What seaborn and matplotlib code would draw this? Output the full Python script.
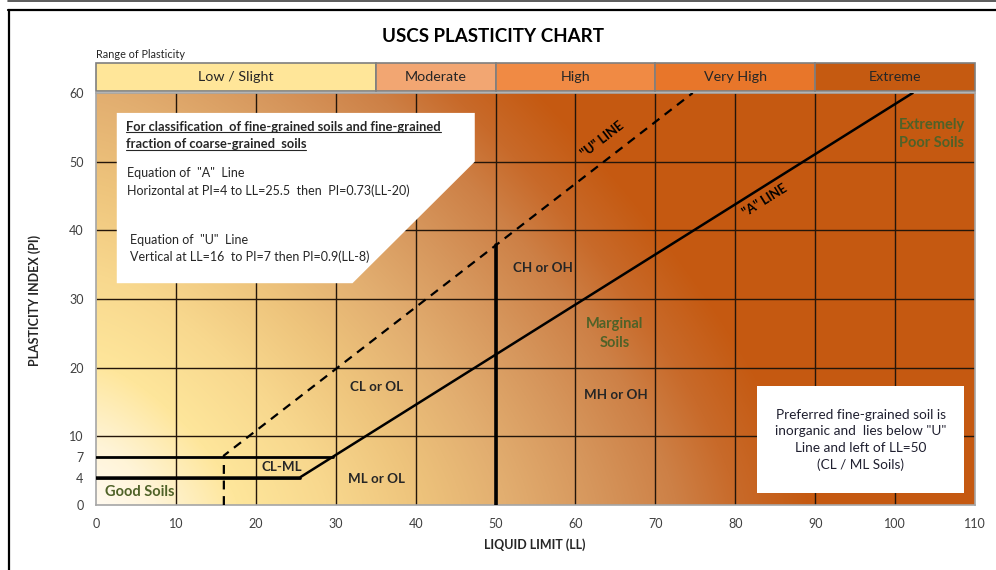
import numpy as np
import pandas as pd
import matplotlib
matplotlib.use("Agg")
import matplotlib.pyplot as plt
from matplotlib.lines import Line2D
from matplotlib.patches import Polygon, Rectangle
import seaborn as sns

# ---------------- data ----------------
ll_ticks = [0, 10, 20, 30, 40, 50, 60, 70, 80, 90, 100, 110]
pi_ticks = [0, 4, 7, 10, 20, 30, 40, 50, 60]
grid_ll = [10, 20, 30, 40, 50, 60, 70, 80, 90, 100]
grid_pi = [10, 20, 30, 40, 50]

# "A" line: horizontal at PI=4 to LL=25.5 then PI=0.73(LL-20)
a_line_ll = [0, 25.5, 102.2]
a_line_pi = [4, 4, 60]
# "U" line: vertical at LL=16 to PI=7 then PI=0.9(LL-8)
u_line_ll = [16, 16, 74.67]
u_line_pi = [0, 7.2, 60]
# CL-ML upper boundary
clml_ll = [0, 29.6]
clml_pi = [7, 7]
# LL = 50 divider
ll50_ll = [50, 50]
ll50_pi = [0, 37.8]

range_labels = ["Low / Slight", "Moderate", "High", "Very High", "Extreme"]
range_start = [0, 35, 50, 70, 90]
range_end = [35, 50, 70, 90, 110]
range_colors = ["#FFE699", "#F2A672", "#F08A44", "#E8762A", "#C55A11"]

# ---------------- style ----------------
sns.set_theme(style="white")
plt.rcParams["font.family"] = ["Lato", "DejaVu Sans"]

W, H = 996, 570
fig = plt.figure(figsize=(W / 100, H / 100), dpi=100)
fig.patch.set_facecolor("white")

L, R, T, B = 96, 975, 93, 505
ax = fig.add_axes([L / W, (H - B) / H, (R - L) / W, (B - T) / H])
ax.set_xlim(0, 110)
ax.set_ylim(0, 60)

# background gradient from bottom-left corner (pixel space, p-norm contours)
pw, ph = R - L, B - T
xx, yy = np.meshgrid(np.arange(pw, dtype=float), np.arange(ph, dtype=float))
p = 1.35
d = (xx ** p + yy ** p) ** (1 / p)
stops = [0, 60, 140, 230, 320, 410, 500, 580, 640, 710]
cols = np.array([(255, 250, 240), (255, 244, 215), (254, 230, 155), (248, 216, 142),
                 (238, 196, 124), (226, 174, 112), (214, 150, 92), (205, 128, 70),
                 (200, 106, 42), (197, 90, 18)]) / 255.0
img = np.dstack([np.interp(d, stops, cols[:, k]) for k in range(3)])
ax.imshow(img, extent=[0, 110, 0, 60], origin="lower", aspect="auto", zorder=0)

# grid
ax.vlines(grid_ll, 0, 60, color="#24160a", lw=1.0, zorder=1)
ax.hlines(grid_pi, 0, 110, color="#24160a", lw=1.0, zorder=1)

# lines via seaborn
sns.lineplot(x=a_line_ll, y=a_line_pi, ax=ax, sort=False, estimator=None,
             color="black", lw=1.8, zorder=3)
sns.lineplot(x=u_line_ll, y=u_line_pi, ax=ax, sort=False, estimator=None,
             color="black", lw=1.6, linestyle=(0, (4, 3)), zorder=3)
sns.lineplot(x=clml_ll, y=clml_pi, ax=ax, sort=False, estimator=None,
             color="black", lw=2.0, zorder=3)
sns.lineplot(x=a_line_ll[:2], y=a_line_pi[:2], ax=ax, sort=False, estimator=None,
             color="black", lw=2.0, zorder=3)
sns.lineplot(x=ll50_ll, y=ll50_pi, ax=ax, sort=False, estimator=None,
             color="black", lw=2.6, zorder=3)

# white note boxes
ax.add_patch(Polygon([(2.6, 57.1), (47.4, 57.1), (47.4, 50.0), (32.1, 32.3), (2.6, 32.3)],
                     closed=True, facecolor="white", edgecolor="none", zorder=4))
ax.add_patch(Rectangle((82.75, 1.75), 108.6 - 82.75, 17.3 - 1.75,
                       facecolor="white", edgecolor="none", zorder=4))

# axes styling
ax.set_xticks(ll_ticks)
ax.set_yticks(pi_ticks)
ax.tick_params(axis="both", labelsize=9, labelcolor="#404040", colors="#808080",
               length=3, direction="in", pad=9)
for s in ax.spines.values():
    s.set_color("#A6A6A6")
    s.set_linewidth(1.2)
ax.grid(False)
ax.set_xlabel("")
ax.set_ylabel("")

txtc = "#262626"
green = "#4F6228"

# annotations in the top-left box
t1 = ax.text(3.75, 55.0, "For classification  of fine-grained soils and fine-grained",
             fontsize=9.3, fontweight="bold", color=txtc, va="center", ha="left", zorder=5)
t2 = ax.text(3.75, 52.5, "fraction of coarse-grained  soils",
             fontsize=9.3, fontweight="bold", color=txtc, va="center", ha="left", zorder=5)
ax.text(3.9, 48.3, 'Equation of  "A"  Line', fontsize=9, color=txtc, va="center", ha="left", zorder=5)
ax.text(3.9, 45.8, "Horizontal at PI=4 to LL=25.5  then  PI=0.73(LL-20)", fontsize=9,
        color=txtc, va="center", ha="left", zorder=5)
ax.text(4.25, 38.6, 'Equation of  "U"  Line', fontsize=9, color=txtc, va="center", ha="left", zorder=5)
ax.text(4.25, 36.1, "Vertical at LL=16  to PI=7 then PI=0.9(LL-8)", fontsize=9,
        color=txtc, va="center", ha="left", zorder=5)

# rotated line labels: angle taken from the axes transform
def screen_angle(p0, p1):
    a = ax.transData.transform(p0)
    b = ax.transData.transform(p1)
    return np.degrees(np.arctan2(b[1] - a[1], b[0] - a[0]))

ang_u = screen_angle((u_line_ll[1], u_line_pi[1]), (u_line_ll[2], u_line_pi[2]))
ang_a = screen_angle((a_line_ll[1], a_line_pi[1]), (a_line_ll[2], a_line_pi[2]))
ax.text(63.4, 53.2, '"U" LINE', rotation=ang_u, rotation_mode="anchor", fontsize=9.3,
        fontweight="bold", color="black", ha="center", va="center", zorder=5)
ax.text(83.75, 44.4, '"A" LINE', rotation=ang_a, rotation_mode="anchor", fontsize=9.3,
        fontweight="bold", color="black", ha="center", va="center", zorder=5)

bold_labels = [(55.9, 34.5, "CH or OH"), (35.1, 17.2, "CL or OL"), (65.1, 16.0, "MH or OH"),
               (23.25, 5.5, "CL-ML"), (35.1, 3.8, "ML or OL")]
for x, y, s in bold_labels:
    ax.text(x, y, s, fontsize=9.6, fontweight="bold", color=txtc, ha="center", va="center", zorder=5)

green_labels = [(64.9, 25.0, "Marginal\nSoils"), (5.5, 1.9, "Good Soils"),
                (104.6, 54.0, "Extremely\nPoor Soils")]
for x, y, s in green_labels:
    ax.text(x, y, s, fontsize=10.5, fontweight="bold", color=green, ha="center", va="center",
            linespacing=1.4, zorder=5)

ax.text(95.7, 9.5, 'Preferred fine-grained soil is\ninorganic and  lies below "U"\nLine and left of LL=50\n(CL / ML Soils)',
        fontsize=9.8, color="#202030", ha="center", va="center", linespacing=1.45, zorder=5)

# range of plasticity band
band = fig.add_axes([L / W, (H - 91) / H, (R - L) / W, 28 / H])
band.set_xlim(0, 110)
band.set_ylim(0, 1)
band.axis("off")
widths = [e - s for s, e in zip(range_start, range_end)]
band.barh([0.5] * len(range_labels), widths, left=range_start, height=1.0,
          color=range_colors, edgecolor="#7F7F7F", linewidth=1.2, clip_on=False)
for s, e, lab in zip(range_start, range_end, range_labels):
    band.text((s + e) / 2, 0.5, lab, fontsize=10.3, color=txtc, ha="center", va="center")

fig.text(L / W, 1 - 55 / H, "Range of Plasticity", fontsize=7.8, color=txtc, ha="left", va="center")
fig.text(493 / W, 1 - 36 / H, "USCS PLASTICITY CHART", fontsize=13.5, fontweight="bold",
         color="black", ha="center", va="center")
fig.text(535 / W, 1 - 545 / H, "LIQUID LIMIT (LL)", fontsize=9, fontweight="bold",
         color=txtc, ha="center", va="center")
fig.text(35 / W, 1 - 300 / H, "PLASTICITY INDEX (PI)", fontsize=9, fontweight="bold",
         color=txtc, ha="center", va="center", rotation=90)

# outer frame lines
fig.add_artist(Line2D([8 / W, 1], [1 - 1 / H, 1 - 1 / H], transform=fig.transFigure, color="#404040", lw=1.2))
fig.add_artist(Line2D([8 / W, 1], [1 - 10 / H, 1 - 10 / H], transform=fig.transFigure, color="black", lw=1.6))
fig.add_artist(Line2D([9 / W, 9 / W], [0, 1 - 10 / H], transform=fig.transFigure, color="black", lw=1.6))

# underline the heading of the note box
fig.canvas.draw()
r = fig.canvas.get_renderer()
inv = fig.transFigure.inverted()
for t in (t1, t2):
    bb = t.get_window_extent(renderer=r)
    (x0, y0), (x1, _) = inv.transform([(bb.x0, bb.y0 + 1), (bb.x1, bb.y0 + 1)])
    fig.add_artist(Line2D([x0, x1], [y0, y0], transform=fig.transFigure, color=txtc, lw=0.8, zorder=6))

fig.savefig("out.png", dpi=100)
